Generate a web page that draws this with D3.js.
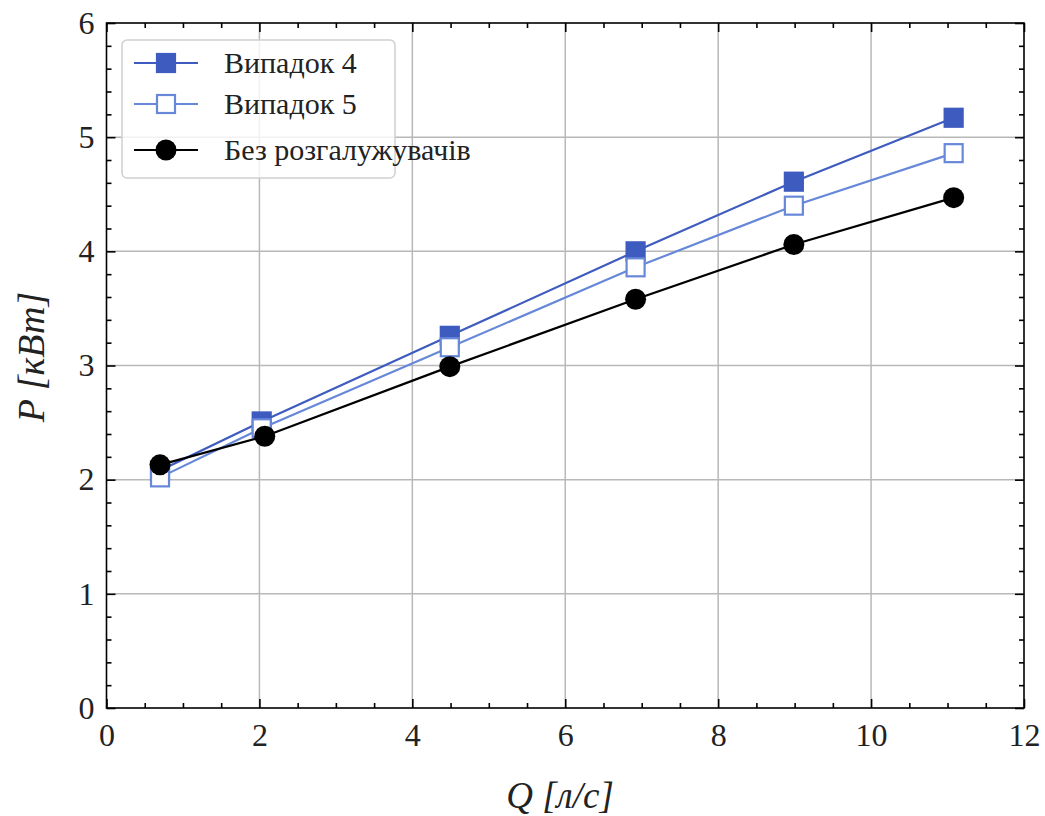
<!DOCTYPE html>
<html><head><meta charset="utf-8">
<script src="https://cdn.jsdelivr.net/npm/d3@7"></script>
<style>body{margin:0;background:#fff}</style>
</head><body>
<svg id="c" width="1045" height="816"></svg>
<script>
const seriesNames = ["Випадок 4", "Випадок 5", "Без розгалужувачів"];
const qCase4 = [0.70, 2.03, 4.49, 6.92, 8.99, 11.08];
const pCase4 = [2.08, 2.51, 3.26, 4.00, 4.61, 5.17];
const qCase5 = [0.70, 2.03, 4.49, 6.92, 8.99, 11.08];
const pCase5 = [2.02, 2.45, 3.16, 3.86, 4.40, 4.86];
const qBase = [0.70, 2.07, 4.49, 6.92, 8.99, 11.08];
const pBase = [2.13, 2.38, 2.99, 3.58, 4.06, 4.47];
const xTicks = [0, 2, 4, 6, 8, 10, 12];
const yTicks = [0, 1, 2, 3, 4, 5, 6];

const svg = d3.select("#c");
const L = 106.5, R = 1024, T = 23, B = 708;
const x = d3.scaleLinear().domain([0, 12]).range([L, R]);
const y = d3.scaleLinear().domain([0, 6]).range([B, T]);
const font = "Liberation Serif, DejaVu Serif, serif";

// grid
svg.append("g").selectAll("line").data(xTicks.slice(1, -1)).join("line")
  .attr("x1", d => x(d)).attr("x2", d => x(d)).attr("y1", T).attr("y2", B)
  .attr("stroke", "#b8b8b8").attr("stroke-width", 1.5);
svg.append("g").selectAll("line").data(yTicks.slice(1, -1)).join("line")
  .attr("y1", d => y(d)).attr("y2", d => y(d)).attr("x1", L).attr("x2", R)
  .attr("stroke", "#b8b8b8").attr("stroke-width", 1.5);

// axes with inward ticks on all sides
const xMinor = d3.range(0, 12.01, 0.5).filter(v => v % 2 !== 0);
const yMinor = d3.range(0, 6.001, 0.2).map(v => +v.toFixed(1)).filter(v => Math.abs(v - Math.round(v)) > 1e-6);
function axisGroup(axis, tr) { return svg.append("g").attr("transform", tr).call(axis); }
const fmt = d3.format("d");
axisGroup(d3.axisBottom(x).tickValues(xTicks).tickSizeInner(-9).tickSizeOuter(0).tickPadding(15).tickFormat(fmt), `translate(0,${B})`)
  .attr("class", "lab").attr("font-family", font).attr("font-size", 32);
axisGroup(d3.axisBottom(x).tickValues(xMinor).tickSizeInner(-5).tickSizeOuter(0).tickFormat(""), `translate(0,${B})`);
axisGroup(d3.axisTop(x).tickValues(xTicks).tickSizeInner(-9).tickSizeOuter(0).tickFormat(""), `translate(0,${T})`);
axisGroup(d3.axisTop(x).tickValues(xMinor).tickSizeInner(-5).tickSizeOuter(0).tickFormat(""), `translate(0,${T})`);
axisGroup(d3.axisLeft(y).tickValues(yTicks).tickSizeInner(-9).tickSizeOuter(0).tickPadding(12).tickFormat(fmt), `translate(${L},0)`)
  .attr("class", "lab").attr("font-family", font).attr("font-size", 32);
axisGroup(d3.axisLeft(y).tickValues(yMinor).tickSizeInner(-5).tickSizeOuter(0).tickFormat(""), `translate(${L},0)`);
axisGroup(d3.axisRight(y).tickValues(yTicks).tickSizeInner(-9).tickSizeOuter(0).tickFormat(""), `translate(${R},0)`);
axisGroup(d3.axisRight(y).tickValues(yMinor).tickSizeInner(-5).tickSizeOuter(0).tickFormat(""), `translate(${R},0)`);
svg.selectAll(".domain").remove();
svg.selectAll(".tick line").attr("stroke", "#000").attr("stroke-width", 1.6);
svg.selectAll(".lab .tick text").attr("fill", "#222");
svg.append("rect").attr("x", L).attr("y", T).attr("width", R - L).attr("height", B - T)
  .attr("fill", "none").attr("stroke", "#000").attr("stroke-width", 1.6);

// axis labels
svg.append("text").attr("x", 560).attr("y", 808).attr("text-anchor", "middle")
  .attr("font-family", font).attr("font-size", 37).attr("font-style", "italic").attr("fill", "#222")
  .text("Q [л/с]");
svg.append("text").attr("transform", "translate(44,357) rotate(-90)").attr("text-anchor", "middle")
  .attr("font-family", font).attr("font-size", 38).attr("font-style", "italic").attr("fill", "#222")
  .text("P [кВт]");

const c4 = "#3e5bbf", c5 = "#6788d9";
const series = [
  {name: seriesNames[0], q: qCase4, p: pCase4, color: c4, marker: "sq", fill: c4},
  {name: seriesNames[1], q: qCase5, p: pCase5, color: c5, marker: "sq", fill: "#fff"},
  {name: seriesNames[2], q: qBase, p: pBase, color: "#000", marker: "ci", fill: "#000"}
];
const line = d3.line();
function drawMarker(g, s, cx, cy) {
  if (s.marker === "sq") {
    g.append("rect").attr("x", cx - 9).attr("y", cy - 9).attr("width", 18).attr("height", 18)
      .attr("fill", s.fill).attr("stroke", s.color).attr("stroke-width", 2.2);
  } else {
    g.append("circle").attr("cx", cx).attr("cy", cy).attr("r", 10.5).attr("fill", s.fill);
  }
}
series.forEach(s => {
  const pts = s.q.map((q, i) => [x(q), y(s.p[i])]);
  svg.append("path").attr("d", line(pts)).attr("fill", "none").attr("stroke", s.color).attr("stroke-width", 2.2);
  const g = svg.append("g");
  pts.forEach(p => drawMarker(g, s, p[0], p[1]));
});

// legend
svg.append("rect").attr("x", 122).attr("y", 40).attr("width", 273).attr("height", 138).attr("rx", 5)
  .attr("fill", "rgba(255,255,255,0.8)").attr("stroke", "#d0d0d0").attr("stroke-width", 1.5);
const rows = [63, 104, 150];
series.forEach((s, i) => {
  const g = svg.append("g");
  g.append("line").attr("x1", 134).attr("x2", 198).attr("y1", rows[i]).attr("y2", rows[i])
    .attr("stroke", s.color).attr("stroke-width", 2.2);
  drawMarker(g, s, 166, rows[i]);
  g.append("text").attr("x", 224).attr("y", rows[i] + 10).attr("font-family", font).attr("font-size", 30)
    .attr("fill", "#222").text(s.name);
});
</script>
</body></html>
